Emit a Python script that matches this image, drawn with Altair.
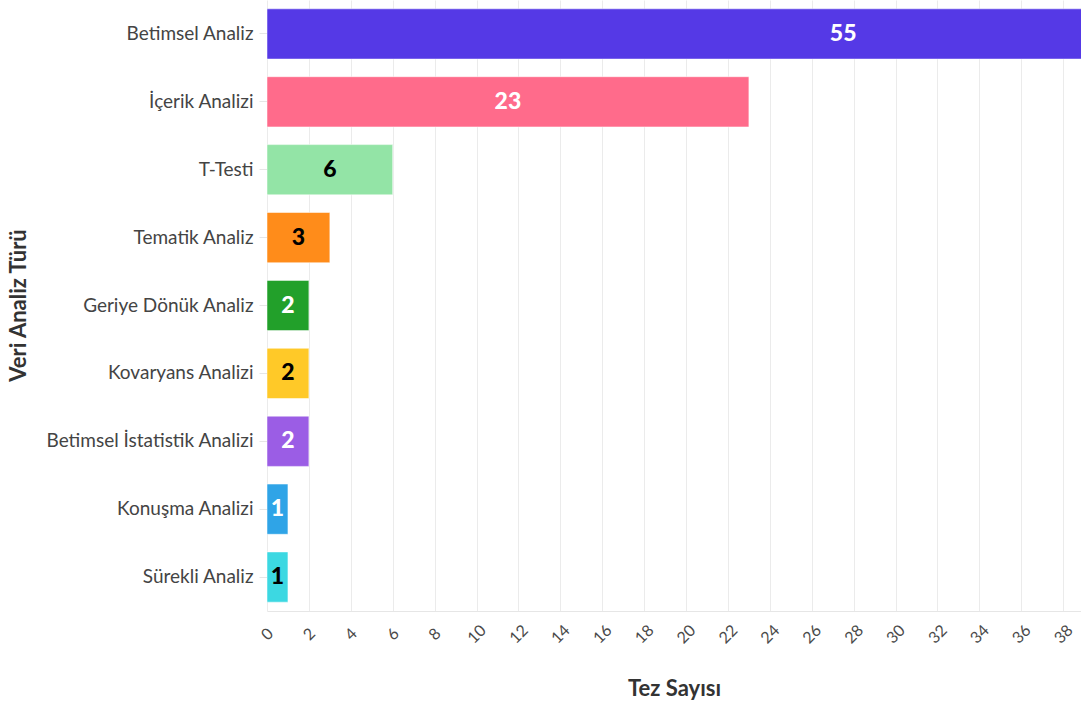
import altair as alt
import pandas as pd

categories = ["Betimsel Analiz", "İçerik Analizi", "T-Testi", "Tematik Analiz",
              "Geriye Dönük Analiz", "Kovaryans Analizi", "Betimsel İstatistik Analizi",
              "Konuşma Analizi", "Sürekli Analiz"]
values = [55, 23, 6, 3, 2, 2, 2, 1, 1]
bar_colors = ["#5539e6", "#ff6b8b", "#93e4a6", "#ff8c1a", "#22a02a",
              "#ffc928", "#9b5de5", "#2fa4e7", "#3cd8e2"]
label_colors = ["#ffffff", "#ffffff", "#000000", "#000000", "#ffffff",
                "#000000", "#ffffff", "#ffffff", "#000000"]
x_ticks = list(range(0, 39, 2))

df = pd.DataFrame({"cat": categories, "val": values,
                   "half": [v / 2 for v in values], "lc": label_colors})

FONT = "Lato"

y_enc = alt.Y("cat:N", sort=categories,
              scale=alt.Scale(paddingInner=0.26, paddingOuter=0.13),
              axis=alt.Axis(title="Veri Analiz Türü", titleFont=FONT, titleFontSize=22,
                            titleFontWeight="bold", titleColor="#333333",
                            titleAngle=270, titleX=-249, titleY=305,
                            titleBaseline="middle", titleAlign="center",
                            labelFont=FONT, labelFontSize=19, labelColor="#444444",
                            labelLimit=400,
                            labelPadding=6, ticks=True, tickSize=8, tickColor="#e6e6e6",
                            domain=False, grid=False))

x_scale = alt.Scale(domain=[0, 38.85], nice=False, zero=True)

bars = alt.Chart(df).mark_bar(clip=True, stroke="#ffffff", strokeWidth=1, strokeOpacity=0.5).encode(
    x=alt.X("val:Q", scale=x_scale,
            axis=alt.Axis(title="Tez Sayısı", values=x_ticks, titleFont=FONT,
                          titleFontSize=22, titleFontWeight="bold", titleColor="#333333",
                          titleY=77, titleBaseline="middle",
                          labelFont=FONT, labelFontSize=16, labelColor="#4a4a4a",
                          labelAngle=315, labelAlign="center", labelBaseline="middle",
                          labelPadding=23, ticks=False, domain=True,
                          domainColor="#e6e6e6", grid=True, gridColor="#ebebeb",
                          labelOverlap=False)),
    y=y_enc,
    color=alt.Color("cat:N", scale=alt.Scale(domain=categories, range=bar_colors), legend=None),
)

texts = alt.Chart(df).mark_text(font=FONT, fontSize=23, fontWeight=900).encode(
    x=alt.X("half:Q", scale=x_scale),
    y=alt.Y("cat:N", sort=categories),
    text=alt.Text("val:Q"),
    color=alt.Color("lc:N", scale=None),
)

chart = alt.layer(bars, texts).properties(
    width=814, height=611,
    autosize=alt.AutoSizeParams(type="none"),
    padding={"left": 267, "top": 0, "right": 0, "bottom": 93},
    background="#ffffff",
).configure_view(stroke=None)

chart.save("out.html", embed_options={"renderer": "svg", "actions": False})
